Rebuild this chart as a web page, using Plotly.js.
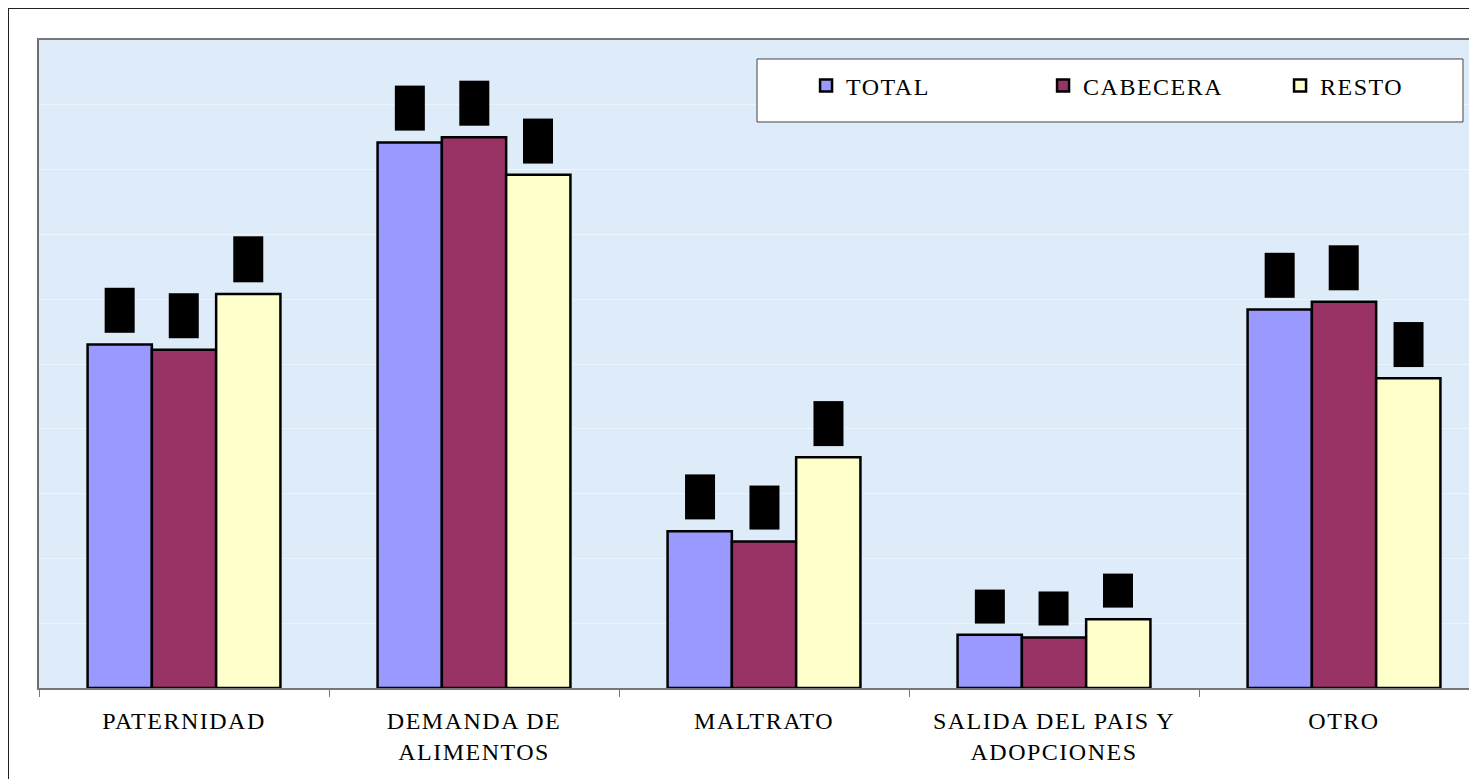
<!DOCTYPE html>
<html>
<head>
<meta charset="utf-8">
<script src="https://cdn.plot.ly/plotly-3.0.1.min.js"></script>
<style>
  html, body { margin: 0; padding: 0; overflow: hidden; background: #ffffff; }
  #frame { position: absolute; left: 8px; top: 8px; width: 1600px; height: 900px; border: 1px solid #222; background: #fff; }
  #chart { position: absolute; left: 0; top: 0; width: 1469px; height: 779px; }
  .xtick text { letter-spacing: 1.5px; }
  .legendtext { letter-spacing: 1.5px; }
</style>
</head>
<body>
<div id="frame"></div>
<div id="chart"></div>
<script>
// Categories and tick labels
const categories = ["PATERNIDAD", "DEMANDA DE ALIMENTOS", "MALTRATO", "SALIDA DEL PAIS Y ADOPCIONES", "OTRO"];
const tickLabels = ["PATERNIDAD", "DEMANDA DE<br>ALIMENTOS", "MALTRATO", "SALIDA DEL PAIS Y<br>ADOPCIONES", "OTRO"];

// Series values (percent)
const total    = [26.5, 42.1, 12.1, 4.1, 29.2];
const cabecera = [26.1, 42.5, 11.3, 3.9, 29.8];
const resto    = [30.4, 39.6, 17.8, 5.3, 23.9];

const seriesNames  = ["TOTAL", "CABECERA", "RESTO"];
const seriesColors = ["#9999FF", "#993366", "#FFFFCC"];
const seriesValues = [total, cabecera, resto];

const FONT = "Liberation Serif, Times New Roman, serif";
const bargap = 0.335;

const traces = seriesValues.map((vals, k) => ({
  type: "bar",
  name: seriesNames[k],
  x: categories,
  y: vals,
  marker: { color: seriesColors[k], line: { color: "#000000", width: 2.5 } },
  hoverinfo: "x+y+name"
}));

// Data labels (black on black, as in the reference)
const annotations = [];
const w = (1 - bargap) / 3;
seriesValues.forEach((vals, k) => {
  vals.forEach((v, i) => {
    annotations.push({
      x: i + (k - 1) * w,
      y: v,
      xref: "x",
      yref: "y",
      text: v.toFixed(1).replace(".", ","),
      showarrow: false,
      textangle: -90,
      yanchor: "bottom",
      xanchor: "center",
      yshift: 11,
      font: { family: FONT, size: 23, color: "#000000" },
      bgcolor: "#000000",
      borderpad: 2
    });
  });
});

const layout = {
  width: 1469,
  height: 779,
  margin: { l: 39, r: 0, t: 40, b: 91, autoexpand: false },
  paper_bgcolor: "rgba(0,0,0,0)",
  plot_bgcolor: "#deebf9",
  barmode: "group",
  bargap: bargap,
  bargroupgap: 0,
  font: { family: FONT, size: 24, color: "#000000" },
  showlegend: true,
  legend: {
    orientation: "h",
    x: 0.5364,
    xanchor: "left",
    y: 0.929,
    yanchor: "middle",
    bgcolor: "rgba(0,0,0,0)",
    borderwidth: 0,
    entrywidth: 192,
    font: { family: FONT, size: 24, color: "#000000" },
    traceorder: "normal"
  },
  xaxis: {
    type: "category",
    range: [-0.5, 4.431],
    tickmode: "array",
    tickvals: categories,
    ticktext: tickLabels,
    tickson: "boundaries",
    ticks: "outside",
    ticklen: 7,
    tickcolor: "#777777",
    tickwidth: 1,
    ticklabelstandoff: 10,
    showline: true,
    linecolor: "#777777",
    linewidth: 2,
    mirror: true,
    showgrid: false,
    tickfont: { family: FONT, size: 24, color: "#000000" },
    automargin: false,
    fixedrange: true
  },
  yaxis: {
    range: [0, 50],
    dtick: 5,
    showticklabels: false,
    ticks: "",
    showgrid: true,
    gridcolor: "#eef4fc",
    gridwidth: 1,
    zeroline: false,
    showline: true,
    linecolor: "#6f6f6f",
    linewidth: 2,
    automargin: false,
    fixedrange: true
  },
  shapes: [
    {
      type: "rect",
      xref: "paper", yref: "paper",
      x0: 0.5021, x1: 0.9958,
      y0: 0.8735, y1: 0.9707,
      fillcolor: "#ffffff",
      line: { color: "#444444", width: 1 },
      layer: "above"
    }
  ],
  annotations: annotations
};

Plotly.newPlot("chart", traces, layout, { displayModeBar: false, staticPlot: true });
</script>
</body>
</html>
